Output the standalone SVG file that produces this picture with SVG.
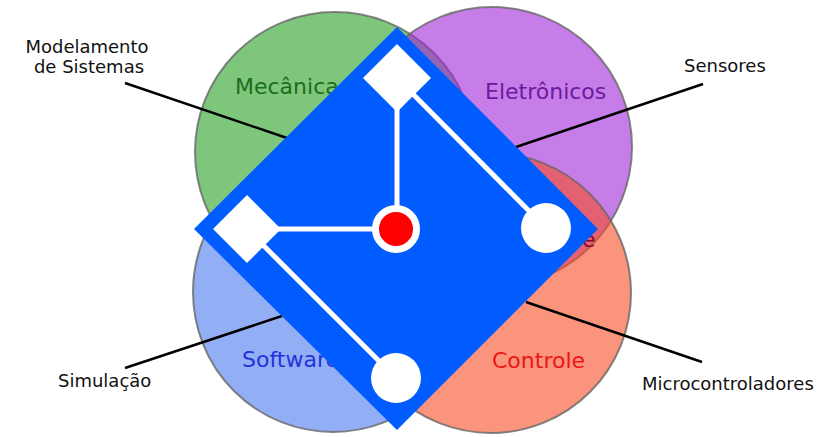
<svg xmlns="http://www.w3.org/2000/svg" width="826" height="437" viewBox="0 0 826 437">
<style>
.ring{stroke:#666;stroke-opacity:.8;stroke-width:2;fill-opacity:.6}
.lbl{font-family:"DejaVu Sans",Verdana,sans-serif;font-size:22px}
.out{font-family:"DejaVu Sans",Verdana,sans-serif;font-size:18px;fill:#111}
.conn{stroke:#000;stroke-width:2.5;fill:none}
.wl{stroke:#fff;stroke-width:5;fill:none}
</style>
<rect width="826" height="437" fill="#fff"/>
<g id="mecanica">
<circle class="ring" cx="335" cy="152" r="140" fill="#2aa027"/>
<text class="lbl" x="235" y="94" fill="#1a6e1a">Mecânica</text>
</g>
<g id="eletronicos">
<circle class="ring" cx="492" cy="147" r="140" fill="#a226d8"/>
<text class="lbl" x="485" y="99" fill="#6a1aa0">Eletrônicos</text>
</g>
<g id="controle">
<circle class="ring" cx="491" cy="293" r="140" fill="#f74d25"/>
<text class="lbl" x="492" y="368" fill="#ee1515">Controle</text>
<text class="lbl" x="582" y="247" fill="#8b0a20">e</text>
</g>
<g id="software">
<circle class="ring" cx="333" cy="292" r="140" fill="#4a78ee"/>
<text class="lbl" x="242" y="367" fill="#2233dd">Software</text>
</g>
<g id="connectors">
<line class="conn" x1="125" y1="83" x2="287" y2="138"/>
<line class="conn" x1="703" y1="84" x2="516" y2="147"/>
<line class="conn" x1="125" y1="368" x2="282" y2="316"/>
<line class="conn" x1="526" y1="302" x2="702" y2="362"/>
</g>
<g id="label-modelamento">
<text class="out" x="87" y="53" text-anchor="middle">Modelamento</text>
<text class="out" x="89" y="73" text-anchor="middle">de Sistemas</text>
</g>
<g id="label-sensores"><text class="out" x="684" y="72">Sensores</text></g>
<g id="label-simulacao"><text class="out" x="58" y="387">Simulação</text></g>
<g id="label-micro"><text class="out" x="642" y="390">Microcontroladores</text></g>
<g id="logo">
<polygon points="397,27 598,229 397,430 194,229" fill="#005cff"/>
<line class="wl" x1="397" y1="78" x2="397" y2="229"/>
<line class="wl" x1="247" y1="229" x2="396" y2="229"/>
<line class="wl" x1="397" y1="78" x2="546" y2="228"/>
<line class="wl" x1="247" y1="229" x2="396" y2="378"/>
<polygon points="397,44 431,78 397,112 363,78" fill="#fff"/>
<polygon points="247,195 281,229 247,263 213,229" fill="#fff"/>
<circle cx="396" cy="229" r="20.5" fill="#f00" stroke="#fff" stroke-width="7"/>
<circle cx="546" cy="228" r="25" fill="#fff"/>
<circle cx="396" cy="378" r="25" fill="#fff"/>
</g>
</svg>
